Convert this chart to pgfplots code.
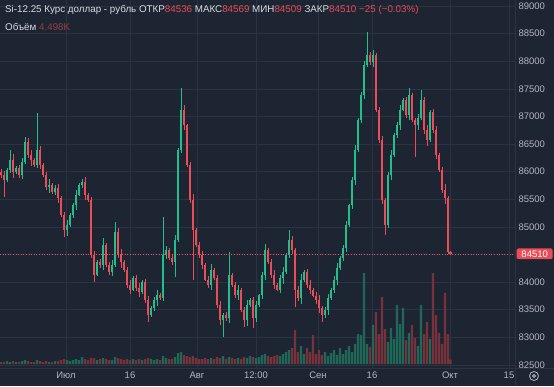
\documentclass[border=0pt]{standalone}
\usepackage{fontspec}
\setmainfont{Liberation Sans}
\usepackage{pgfplots}
\usepackage{pgfplotstable}
\pgfplotsset{compat=1.18}
\definecolor{bg}{RGB}{30,37,50}
\definecolor{gridc}{RGB}{43,51,65}
\definecolor{upc}{RGB}{34,190,140}
\definecolor{dnc}{RGB}{234,76,88}
\definecolor{txt}{RGB}{178,182,192}
\definecolor{hdr}{RGB}{215,218,225}
\definecolor{upv}{RGB}{30,104,88}
\definecolor{dnv}{RGB}{120,50,60}
\definecolor{dimred}{RGB}{150,62,72}

\pgfplotstableread{
x o h l c v
0 86000 86050 85890 85940 2
3 85940 86020 85540 85850 2
6 85850 86060 85820 86030 3
9 86030 86390 85970 86210 2
12 86210 86310 85890 85990 3
15 85990 86110 85950 86070 2
18 86070 86120 85890 85940 2
21 85940 86250 85860 86170 3
24 86170 86630 86140 86540 4
27 86540 86600 86240 86300 3
30 86300 86400 86110 86210 2
33 86210 86250 86080 86120 2
36 86120 87060 86070 86390 4
39 86390 86470 86040 86120 3
42 86120 86150 85910 85940 2
45 85940 86000 85660 85720 3
48 85720 85860 85620 85760 2
51 85760 85800 85590 85630 2
54 85630 85750 85580 85700 3
57 85700 85780 85440 85520 3
60 85520 85550 85180 85210 4
63 85210 85270 84820 84940 5
66 84940 85130 84840 85030 4
69 85030 85250 84990 85210 3
72 85210 85440 85160 85390 4
75 85390 85660 85310 85580 5
78 85580 85790 85550 85760 4
81 85760 85870 85700 85810 7
84 85810 85910 85480 85580 5
87 85580 85620 85450 85490 4
90 85490 85540 84440 84490 6
93 84490 84570 84000 84130 6
96 84130 84390 84100 84360 4
99 84360 84420 84250 84310 5
102 84310 84800 84210 84670 6
105 84670 84710 84270 84310 5
108 84310 84360 84130 84180 4
111 84180 84390 84100 84310 4
114 84310 85090 84280 84910 7
117 84910 84970 84430 84490 6
120 84490 84590 84260 84360 5
123 84360 84400 84180 84220 4
126 84220 84270 83900 83950 5
129 83950 84030 83780 83860 4
132 83860 84100 83830 84070 5
135 84070 84130 83830 83890 4
138 83890 83990 83720 83820 5
141 83820 84040 83780 84000 4
144 84000 84050 83620 83670 5
147 83670 83750 83280 83400 6
150 83400 83560 83370 83530 5
153 83530 83730 83470 83670 4
156 83670 83860 83570 83760 5
159 83760 83800 83670 83710 4
162 83710 85180 83660 84490 8
165 84490 84660 84410 84580 6
168 84580 84610 84400 84430 5
171 84430 84490 84300 84360 5
174 84360 84860 84090 84760 7
177 84760 86430 84720 86390 11
180 86390 87510 86340 87120 12
183 87120 87200 86760 86840 9
186 86840 86870 86090 86120 8
189 86120 86180 85430 85490 7
192 85490 85590 84040 84940 8
195 84940 84980 84630 84670 6
198 84670 84720 84440 84490 5
201 84490 84570 84230 84310 5
204 84310 84340 84010 84040 6
207 84040 84100 83890 83950 5
210 83950 84320 83850 84220 6
213 84220 84260 84030 84070 5
216 84070 84120 83530 83580 7
219 83580 83660 83230 83310 6
222 83310 83430 83000 83400 8
225 83400 83460 83290 83350 5
228 83350 84540 83250 84130 7
231 84130 84170 83910 83950 6
234 83950 84000 83710 83760 5
237 83760 83940 83680 83860 6
240 83860 83890 83460 83490 5
243 83490 83550 83180 83310 7
246 83310 83680 83210 83580 6
249 83580 83710 83540 83670 8
252 83670 83720 83170 83350 7
255 83350 83660 83270 83580 6
258 83580 83790 83550 83760 7
261 83760 84190 83700 84130 9
264 84130 84680 84030 84580 10
267 84580 84620 84320 84360 8
270 84360 84410 84080 84130 7
273 84130 84210 83870 83950 8
276 83950 83980 83830 83860 9
279 83860 84130 83800 84070 8
282 84070 84280 83970 84180 10
285 84180 84530 84140 84490 12
288 84490 84940 84440 84760 14
291 84760 84840 84500 84580 16
294 84580 84610 83550 83860 34
297 83860 83920 83650 83710 12
300 83710 84140 83610 84040 18
303 84040 84220 84000 84180 10
306 84180 84230 83900 83950 16
309 83950 84030 83780 83860 12
312 83860 83890 83720 83750 29
315 83750 83810 83610 83670 10
318 83670 83770 83430 83530 14
321 83530 83570 83280 83400 9
324 83400 83540 83350 83490 12
327 83490 83790 83410 83710 8
330 83710 83890 83680 83860 11
333 83860 84100 83800 84040 14
336 84040 84350 83940 84250 9
339 84250 84470 84210 84430 16
342 84430 84670 84380 84620 10
345 84620 85110 84540 85030 14
348 85030 85420 85000 85390 18
351 85390 85910 85330 85850 12
354 85850 86490 85750 86390 20
357 86390 86970 86350 86930 30
360 86930 87440 86880 87390 29
363 87390 88010 87310 87930 91
366 87930 88530 87900 88110 20
369 88110 88170 87930 87990 17
372 87990 88210 87890 88110 39
375 88110 88150 87080 87120 52
378 87120 87170 86520 86570 30
381 86570 86650 85410 85490 67
384 85490 85520 84850 85030 35
387 85030 86000 84970 85940 22
390 85940 86400 85840 86300 36
393 86300 86700 86260 86660 25
396 86660 86890 86610 86840 59
399 86840 87200 86760 87120 40
402 87120 87330 87090 87300 56
405 87300 87360 86970 87030 24
408 87030 87510 86930 87390 31
411 87390 87430 86890 86930 39
414 86930 86980 86260 86840 26
417 86840 87050 86760 86970 18
420 86970 87480 86940 87300 59
423 87300 87360 86690 86750 30
426 86750 86850 86470 86570 42
429 86570 87120 86530 87080 25
432 87080 87130 86700 86750 91
435 86750 86830 86220 86300 49
438 86300 86330 86000 86030 31
441 86030 86090 85610 85670 20
444 85670 85770 85420 85520 71
447 85520 85560 84500 84536 30
449.5 84536 84569 84509 84510 4.5
}\candles

\begin{document}
\begin{tikzpicture}
\fill[bg] (0,0) rectangle (554pt,386pt);
\begin{axis}[
  at={(0pt,18pt)}, anchor=south west, scale only axis,
  width=515pt, height=368pt,
  xmin=-1, xmax=514, ymin=82442, ymax=89109,
  axis line style={draw=none},
  major tick length=0pt,
  xtick={65,129,196,255,317,371,449,508},
  xticklabels={Июл,16,Авг,12:00,Сен,16,Окт,15},
  ytick={82500,83000,83500,84000,84500,85000,85500,86000,86500,87000,87500,88000,88500,89000},
  yticklabels={82500,83000,83500,84000,{},85000,85500,86000,86500,87000,87500,88000,88500,89000},
  yticklabel pos=right,
  yticklabel style={inner ysep=0pt},
  grid=major, grid style={gridc, line width=0.6pt},
  ticklabel style={font=\fontsize{9.5}{11}\selectfont, text=txt},
  clip mode=individual,
]
% up wicks
\addplot[draw=none, mark=none, restrict y to domain=80000:95000,
  error bars/.cd, y dir=plus, y explicit, error mark=none,
  error bar style={draw=upc, line width=0.8pt}]
  table[x=x, y expr={ifthenelse(\thisrow{c}<\thisrow{o},0,\thisrow{l})},
        y error plus expr={\thisrow{h}-\thisrow{l}}] {\candles};
% down wicks
\addplot[draw=none, mark=none, restrict y to domain=80000:95000,
  error bars/.cd, y dir=plus, y explicit, error mark=none,
  error bar style={draw=dnc, line width=0.8pt}]
  table[x=x, y expr={ifthenelse(\thisrow{c}<\thisrow{o},\thisrow{l},0)},
        y error plus expr={\thisrow{h}-\thisrow{l}}] {\candles};
% up bodies
\addplot[draw=none, mark=none, restrict y to domain=80000:95000,
  error bars/.cd, y dir=plus, y explicit, error mark=none,
  error bar style={draw=upc, line width=2.2pt}]
  table[x=x, y expr={ifthenelse(\thisrow{c}<\thisrow{o},0,\thisrow{o})},
        y error plus expr={max(\thisrow{c}-\thisrow{o},12)}] {\candles};
% down bodies
\addplot[draw=none, mark=none, restrict y to domain=80000:95000,
  error bars/.cd, y dir=plus, y explicit, error mark=none,
  error bar style={draw=dnc, line width=2.2pt}]
  table[x=x, y expr={ifthenelse(\thisrow{c}<\thisrow{o},\thisrow{c},0)},
        y error plus expr={max(\thisrow{o}-\thisrow{c},12)}] {\candles};
% last price line
\addplot[dnc, dotted, line width=0.6pt] coordinates {(-1,84510) (514,84510)};
\node[fill=dnc, text=white, anchor=west, inner sep=2pt, rounded corners=1.5pt,
  minimum width=36pt, font=\fontsize{9.5}{11}\selectfont] at (axis cs:515.5,84510) {84510};
\end{axis}
% volume
\begin{axis}[
  at={(0pt,18pt)}, anchor=south west, scale only axis,
  width=515pt, height=368pt,
  xmin=-1, xmax=514, ymin=-4, ymax=364, hide axis,
]
\addplot[ybar, bar width=2.4pt, bar shift=0pt, fill=upv, draw=none, restrict y to domain=0:1000]
  table[x=x, y expr={ifthenelse(\thisrow{c}<\thisrow{o},-100,\thisrow{v})}] {\candles};
\addplot[ybar, bar width=2.4pt, bar shift=0pt, fill=dnv, draw=none, restrict y to domain=0:1000]
  table[x=x, y expr={ifthenelse(\thisrow{c}<\thisrow{o},\thisrow{v},-100)}] {\candles};
\end{axis}
\draw[gridc, line width=0.8pt] (515pt,0) -- (515pt,386pt);
\draw[gridc, line width=0.8pt] (0,18pt) -- (554pt,18pt);
\node[anchor=west, inner sep=0pt, text=hdr, font=\fontsize{9.8}{12}\selectfont] at (5pt,376pt)
  {Si-12.25 Курс доллар - рубль ОТКР\textcolor{dnc}{84536} МАКС\textcolor{dnc}{84569} МИН\textcolor{dnc}{84509} ЗАКР\textcolor{dnc}{84510} \textcolor{dnc}{−25 (−0.03\%)}};
\node[anchor=west, inner sep=0pt, text=hdr, font=\fontsize{9.8}{12}\selectfont] at (5pt,359pt)
  {Объём \textcolor{dimred}{4.498K}};
\draw[txt, line width=0.8pt] (534pt,10pt) circle (4.5pt);
\draw[txt, line width=0.8pt] (534pt,10pt) circle (1.5pt);
\pgfresetboundingbox
\path[use as bounding box] (0,0) rectangle (554pt,386pt);
\end{tikzpicture}
\end{document}
